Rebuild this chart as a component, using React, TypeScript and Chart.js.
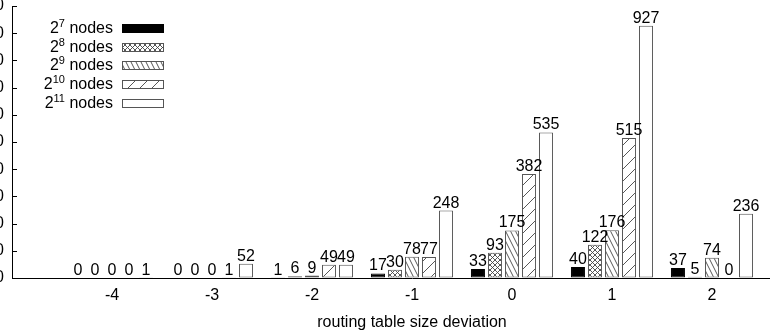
import React, { useEffect, useRef } from 'react';
import { Chart, registerables } from 'chart.js';

Chart.register(...registerables);

// ---- data ----
const deviations = [-4, -3, -2, -1, 0, 1, 2];
const nodes7 = [0, 0, 1, 17, 33, 40, 37];
const nodes8 = [0, 0, 6, 30, 93, 122, 5];
const nodes9 = [0, 0, 9, 78, 175, 176, 74];
const nodes10 = [0, 1, 49, 77, 382, 515, 0];
const nodes11 = [1, 52, 49, 248, 535, 927, 236];
const seriesExponents = ['7', '8', '9', '10', '11'];
const seriesValues = [nodes7, nodes8, nodes9, nodes10, nodes11];
const xMin = -5;
const xMax = 3;
const yMin = 0;
const yMax = 1000;
const yStep = 100;
const xTitle = 'routing table size deviation';

const FONT_FAMILY = "'Liberation Sans', Arial, Helvetica, sans-serif";
const FONT_SIZE = 16;

function makePattern(ctx: CanvasRenderingContext2D, kind: string) {
  const c = document.createElement('canvas');
  let w = 5, h = 5;
  if (kind === 'back') { w = 5; h = 10; }
  if (kind === 'fwd') { w = 12; h = 12; }
  c.width = w; c.height = h;
  const g = c.getContext('2d')!;
  g.fillStyle = '#ffffff';
  g.fillRect(0, 0, w, h);
  g.strokeStyle = '#444444';
  g.lineWidth = 0.9;
  g.beginPath();
  const line = (x1: number, y1: number, x2: number, y2: number) => { g.moveTo(x1, y1); g.lineTo(x2, y2); };
  if (kind === 'cross' || kind === 'back') {
    for (const dx of [-w, 0, w]) line(dx, 0, dx + w, h);
  }
  if (kind === 'cross' || kind === 'fwd') {
    for (const dx of [-w, 0, w]) line(dx, h, dx + w, 0);
  }
  g.stroke();
  return ctx.createPattern(c, 'repeat') as CanvasPattern;
}

export default function App() {
  const ref = useRef<HTMLCanvasElement | null>(null);

  useEffect(() => {
    const canvas = ref.current!;
    const ctx = canvas.getContext('2d')!;
    const fills: any[] = [
      '#000000',
      makePattern(ctx, 'cross'),
      makePattern(ctx, 'back'),
      makePattern(ctx, 'fwd'),
      '#ffffff',
    ];
    const borders = ['#000000', '#555555', '#555555', '#555555', '#555555'];

    const font = { family: FONT_FAMILY, size: FONT_SIZE };

    const valueLabels = {
      id: 'valueLabels',
      afterDatasetsDraw(chart: any) {
        const c = chart.ctx;
        c.save();
        c.font = `${FONT_SIZE}px ${FONT_FAMILY}`;
        c.fillStyle = '#000';
        c.textAlign = 'center';
        c.textBaseline = 'alphabetic';
        chart.data.datasets.forEach((ds: any, di: number) => {
          const meta = chart.getDatasetMeta(di);
          meta.data.forEach((el: any, i: number) => {
            const v = ds.data[i].y;
            c.fillText(String(v), el.x, el.y - 3);
          });
        });
        c.restore();
      },
    };

    const axisTicks = {
      id: 'axisTicks',
      afterDraw(chart: any) {
        const c = chart.ctx;
        const ys = chart.scales.y;
        const left = chart.chartArea.left;
        c.save();
        c.strokeStyle = '#000';
        c.lineWidth = 1;
        c.beginPath();
        ys.ticks.forEach((t: any) => {
          const y = Math.round(ys.getPixelForValue(t.value)) + 0.5;
          c.moveTo(left, y);
          c.lineTo(left + 5, y);
        });
        c.stroke();
        c.restore();
      },
    };

    const customLegend = {
      id: 'customLegend',
      afterDraw(chart: any) {
        const c = chart.ctx;
        const rightText = 173;
        const boxL = 182;
        const boxW = 42;
        const boxH = 9;
        c.save();
        c.fillStyle = '#000';
        c.textBaseline = 'alphabetic';
        seriesExponents.forEach((exp, i) => {
          const baseline = Math.round(33 + 18.7 * i);
          const mainFont = `${FONT_SIZE}px ${FONT_FAMILY}`;
          const supFont = `11px ${FONT_FAMILY}`;
          c.font = mainFont;
          const w2 = c.measureText('2').width;
          const wRest = c.measureText(' nodes').width;
          c.font = supFont;
          const wSup = c.measureText(exp).width;
          let x = rightText - (w2 + wSup + wRest);
          c.textAlign = 'left';
          c.font = mainFont;
          c.fillStyle = '#000';
          c.fillText('2', x, baseline);
          x += w2;
          c.font = supFont;
          c.fillText(exp, x, baseline - 6);
          x += wSup;
          c.font = mainFont;
          c.fillText(' nodes', x, baseline);
          // box
          const top = baseline - boxH;
          c.fillStyle = fills[i];
          c.fillRect(boxL, top, boxW, boxH);
          c.strokeStyle = borders[i];
          c.lineWidth = 1;
          c.strokeRect(boxL + 0.5, top + 0.5, boxW - 1, boxH - 1);
        });
        c.restore();
      },
    };

    const chart = new Chart(canvas, {
      type: 'bar',
      data: {
        datasets: seriesValues.map((vals, si) => ({
          label: `2^${seriesExponents[si]} nodes`,
          data: deviations.map((d, i) => ({ x: d, y: vals[i] })),
          backgroundColor: fills[si],
          borderColor: borders[si],
          borderWidth: 1,
          borderSkipped: false,
          categoryPercentage: 0.85,
          barPercentage: 0.82,
        })),
      },
      options: {
        animation: false,
        responsive: false,
        maintainAspectRatio: false,
        devicePixelRatio: 1,
        layout: { padding: { top: 6, left: 0, right: 28, bottom: 0 } },
        plugins: {
          legend: { display: false },
          tooltip: { enabled: false },
          title: { display: false },
        },
        scales: {
          x: {
            type: 'linear',
            min: xMin,
            max: xMax,
            offset: false,
            grid: { display: true, drawOnChartArea: false, drawTicks: false },
            border: { display: true, color: '#000', width: 1 },
            ticks: {
              stepSize: 1,
              padding: 8,
              color: '#000',
              font,
              autoSkip: false,
              maxRotation: 0,
              callback: (v: any) => (v === xMin || v === xMax ? '' : String(v)),
            },
            title: { display: true, text: xTitle, color: '#000', font, padding: { top: 0, bottom: 3 } },
            afterFit: (s: any) => { s.height = 57; s.paddingLeft = 0; s.paddingRight = 0; },
          },
          y: {
            min: yMin,
            max: yMax,
            grid: { display: true, drawOnChartArea: false, drawTicks: false },
            border: { display: true, color: '#000', width: 1 },
            ticks: { stepSize: yStep, padding: 8, color: '#000', font },
            afterFit: (s: any) => { s.width = 72; s.paddingTop = 0; s.paddingBottom = 0; },
          },
        },
      } as any,
      plugins: [valueLabels, axisTicks, customLegend],
    });
    return () => chart.destroy();
  }, []);

  return (
    <div style={{ position: 'fixed', left: 0, top: 0, width: 770, height: 335, overflow: 'hidden', background: '#fff' }}>
      <canvas
        ref={ref}
        width={900}
        height={335}
        style={{ position: 'absolute', left: -60, top: 0, width: 900, height: 335 }}
      />
    </div>
  );
}
